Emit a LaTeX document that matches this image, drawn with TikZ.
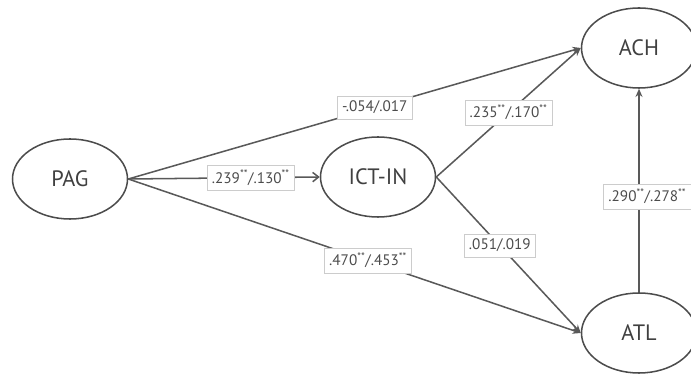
\documentclass[tikz,border=0pt]{standalone}
\usepackage{fontspec}
\setmainfont{PT Sans}
\usetikzlibrary{shapes.geometric,arrows.meta,positioning}

\newcommand{\sig}{\textsuperscript{**}}

\tikzset{
  latent/.style={ellipse, draw=black!70, line width=1.3pt, minimum width=3.45cm, minimum height=2.4cm,
    font=\fontsize{19}{19}\selectfont, text=black!75},
  path/.style={draw=black!65, line width=1.3pt, -{Stealth[length=7pt,width=6pt]}},
  barb/.style={draw=black!65, line width=1.3pt, -{Straight Barb[length=5pt,width=8pt]}},
  coef/.style={draw=black!20, line width=0.5pt, fill=white, font=\fontsize{13}{13}\selectfont,
    text=black!70, inner xsep=4pt, inner ysep=4.5pt},
}

\begin{document}
\begin{tikzpicture}[x=0.03cm,y=-0.03cm]
    \useasboundingbox (0,0) rectangle (691,376);

    % Constructs
    \node[latent] (pag) at (70,179) {PAG};
    \node[latent] (ict) at (378,177) {ICT-IN};
    \node[latent] (ach) at (639,48) {ACH};
    \node[latent] (atl) at (639,333) {ATL};

    % Paths from PAG
    \draw[path] (pag.east) -- node[coef, pos=0.545] {-.054/.017} (ach.west);
    \draw[barb] (pag.east) -- node[coef, pos=0.64] {.239\sig/.130\sig} (ict.west);
    \draw[path] (pag.east) -- node[coef, pos=0.53] {.470\sig/.453\sig} (atl.west);

    % Paths from ICT-IN
    \draw[path] (ict.east) -- node[coef, pos=0.5] {.235\sig/.170\sig} (ach.west);
    \draw[path] (ict.east) -- node[coef, pos=0.44] {.051/.019} (atl.west);

    % ATL to ACH
    \draw[path] (atl.north) -- node[coef, pos=0.47, xshift=0.25cm] {.290\sig/.278\sig} (ach.south);
\end{tikzpicture}
\end{document}
